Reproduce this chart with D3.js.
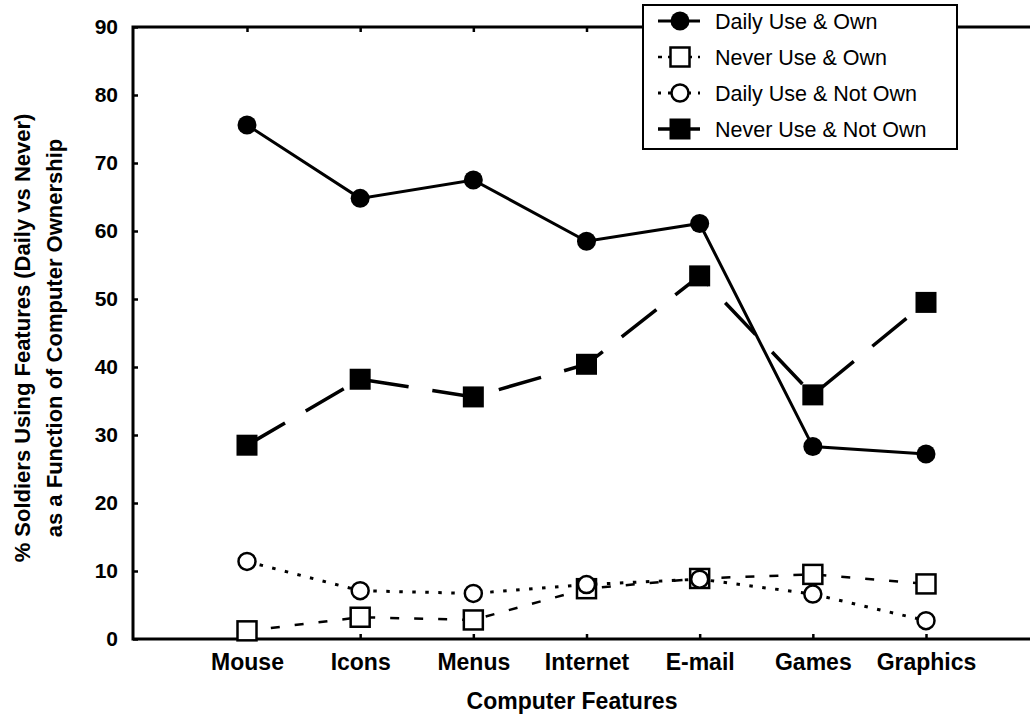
<!DOCTYPE html>
<html>
<head>
<meta charset="utf-8">
<script src="https://cdn.jsdelivr.net/npm/d3@7"></script>
<style>
  body { margin: 0; background: #fff; }
  text { font-family: "Liberation Sans", Arial, sans-serif; fill: #000; }
</style>
</head>
<body>
<svg id="chart" width="1030" height="715"></svg>
<script>
// values
const categories = ["Mouse", "Icons", "Menus", "Internet", "E-mail", "Games", "Graphics"];
const dailyOwn    = [75.6, 64.8, 67.5, 58.5, 61.1, 28.3, 27.2];
const neverOwn    = [1.2, 3.2, 2.8, 7.4, 8.9, 9.5, 8.1];
const dailyNotOwn = [11.4, 7.1, 6.7, 8.0, 8.8, 6.6, 2.7];
const neverNotOwn = [28.5, 38.2, 35.6, 40.4, 53.4, 35.9, 49.5];
const yTicks = [0, 10, 20, 30, 40, 50, 60, 70, 80, 90];
const seriesNames = ["Daily Use & Own", "Never Use & Own", "Daily Use & Not Own", "Never Use & Not Own"];

const series = [
  { name: seriesNames[0], values: dailyOwn,    marker: "circle", filled: true,  dash: null,      width: 3 },
  { name: seriesNames[1], values: neverOwn,    marker: "square", filled: false, dash: "9,15",    width: 2.5 },
  { name: seriesNames[2], values: dailyNotOwn, marker: "circle", filled: false, dash: "3.5,9.5", width: 3 },
  { name: seriesNames[3], values: neverNotOwn, marker: "square", filled: true,  dash: "44,24",   width: 3.5 }
];

const svg = d3.select("#chart");
svg.append("rect").attr("width", 1030).attr("height", 715).attr("fill", "#fff");

const plotLeft = 133, plotTop = 27, plotBottom = 639;

const x = d3.scalePoint().domain(categories).range([247, 926]);
const y = d3.scaleLinear().domain([0, 90]).range([plotBottom, plotTop]);

// frame (right side runs off the picture)
svg.append("rect")
  .attr("x", plotLeft).attr("y", plotTop)
  .attr("width", 1100).attr("height", plotBottom - plotTop)
  .attr("fill", "none").attr("stroke", "#000").attr("stroke-width", 3);

// axes
const yAxis = svg.append("g")
  .attr("transform", `translate(${plotLeft},0)`)
  .call(d3.axisLeft(y).tickValues(yTicks).tickSize(-5).tickSizeOuter(0).tickPadding(15));
yAxis.select(".domain").remove();
yAxis.selectAll("line").attr("stroke-width", 2.5);
yAxis.selectAll("text")
  .style("font-family", "'Liberation Sans', Arial, sans-serif")
  .style("font-size", "21px").style("font-weight", "bold");

const xAxis = svg.append("g")
  .attr("transform", `translate(0,${plotBottom})`)
  .call(d3.axisBottom(x).tickSize(-5).tickSizeOuter(0).tickPadding(15));
xAxis.select(".domain").remove();
xAxis.selectAll("line").attr("stroke-width", 2.5);
xAxis.selectAll("text")
  .style("font-family", "'Liberation Sans', Arial, sans-serif")
  .style("font-size", "23px").style("font-weight", "bold");

const topAxis = svg.append("g")
  .attr("transform", `translate(0,${plotTop})`)
  .call(d3.axisTop(x).tickSize(-5).tickSizeOuter(0).tickFormat(""));
topAxis.select(".domain").remove();
topAxis.selectAll("line").attr("stroke-width", 2.5);

// axis titles
svg.append("text")
  .attr("transform", "translate(30,338) rotate(-90)")
  .attr("text-anchor", "middle")
  .style("font-size", "22px").style("font-weight", "bold")
  .text("% Soldiers Using Features (Daily vs Never)");
svg.append("text")
  .attr("transform", "translate(62,338) rotate(-90)")
  .attr("text-anchor", "middle")
  .style("font-size", "22px").style("font-weight", "bold")
  .text("as a Function of Computer Ownership");
svg.append("text")
  .attr("x", 572).attr("y", 709)
  .attr("text-anchor", "middle")
  .style("font-size", "23px").style("font-weight", "bold")
  .text("Computer Features");

// markers
function drawMarker(g, s, cx, cy) {
  if (s.marker === "circle") {
    g.append("circle")
      .attr("cx", cx).attr("cy", cy)
      .attr("r", s.filled ? 9.5 : 8.5)
      .attr("fill", s.filled ? "#000" : "#fff")
      .attr("stroke", "#000").attr("stroke-width", s.filled ? 0 : 2.5);
  } else {
    const half = s.filled ? 10.5 : 9.5;
    g.append("rect")
      .attr("x", cx - half).attr("y", cy - half)
      .attr("width", half * 2).attr("height", half * 2)
      .attr("fill", s.filled ? "#000" : "#fff")
      .attr("stroke", "#000").attr("stroke-width", s.filled ? 0 : 2.5);
  }
}

const line = d3.line()
  .x((d, i) => x(categories[i]))
  .y(d => y(d));

// lines first, then markers on top
series.forEach(s => {
  svg.append("path")
    .datum(s.values)
    .attr("d", line)
    .attr("fill", "none")
    .attr("stroke", "#000")
    .attr("stroke-width", s.width)
    .attr("stroke-dasharray", s.dash);
});
series.forEach(s => {
  const g = svg.append("g");
  s.values.forEach((v, i) => drawMarker(g, s, x(categories[i]), y(v)));
});

// legend
const legend = svg.append("g");
legend.append("rect")
  .attr("x", 643).attr("y", 5)
  .attr("width", 314).attr("height", 144)
  .attr("fill", "#fff").attr("stroke", "#000").attr("stroke-width", 2);

series.forEach((s, i) => {
  const cy = 21 + i * 36;
  legend.append("line")
    .attr("x1", 658).attr("x2", 700).attr("y1", cy).attr("y2", cy)
    .attr("stroke", "#000").attr("stroke-width", s.width)
    .attr("stroke-dasharray", s.dash ? (s.marker === "circle" ? "3,7" : (s.filled ? null : "4,6")) : null);
  drawMarker(legend, s, 680, cy);
  legend.append("text")
    .attr("x", 715).attr("y", cy + 8)
    .style("font-size", "21.5px")
    .text(s.name);
});
</script>
</body>
</html>
